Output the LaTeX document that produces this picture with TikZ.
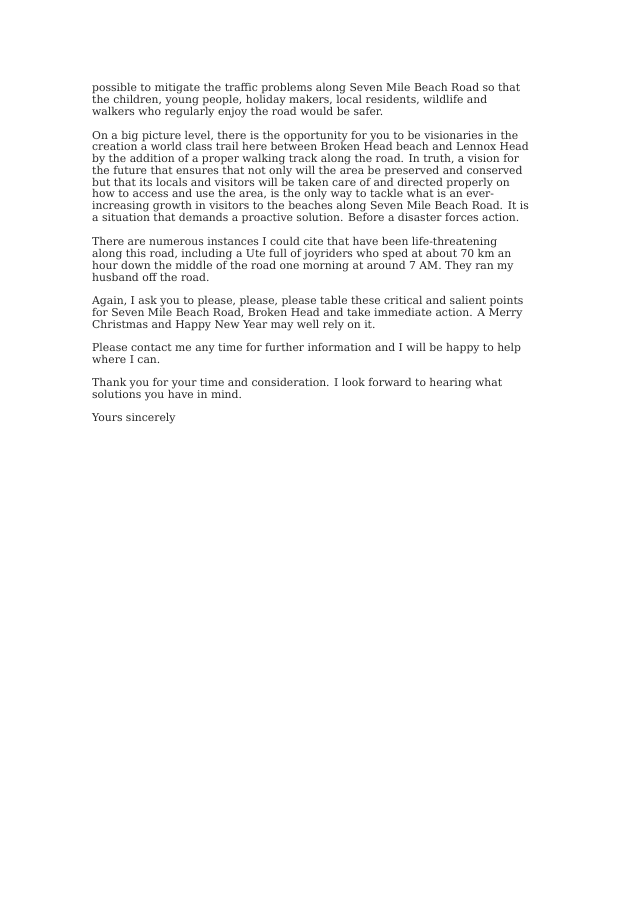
\documentclass[tikz,border=0pt]{standalone}
\usepackage{fontspec}
\setmainfont{DejaVu Serif}
\begin{document}
\begin{tikzpicture}[x=1pt,y=1pt,
  ln/.style={anchor=base west,inner sep=0pt,font=\fontsize{10.8}{12}\selectfont,text=black!85}]
\useasboundingbox[fill=white] (0,0) rectangle (637,-901);
\foreach \t [count=\i] / \y in {
possible to mitigate the traffic problems along Seven Mile Beach Road so that/92,
{the children, young people, holiday makers, local residents, wildlife and}/104,
walkers who regularly enjoy the road would be safer./116,
{On a big picture level, there is the opportunity for you to be visionaries in the}/140,
creation a world class trail here between Broken Head beach and Lennox Head/151,
{by the addition of a proper walking track along the road. In truth, a vision for}/163,
the future that ensures that not only will the area be preserved and conserved/175,
but that its locals and visitors will be taken care of and directed properly on/187,
{how to access and use the area, is the only way to tackle what is an ever-}/198,
increasing growth in visitors to the beaches along Seven Mile Beach Road. It is/210,
a situation that demands a proactive solution. Before a disaster forces action./222,
There are numerous instances I could cite that have been life-threatening/245,
{along this road, including a Ute full of joyriders who sped at about 70 km an}/257,
hour down the middle of the road one morning at around 7 AM. They ran my/269,
husband off the road./281,
{Again, I ask you to please, please, please table these critical and salient points}/304,
{for Seven Mile Beach Road, Broken Head and take immediate action. A Merry}/316,
Christmas and Happy New Year may well rely on it./328,
Please contact me any time for further information and I will be happy to help/351,
where I can./363,
Thank you for your time and consideration. I look forward to hearing what/386,
solutions you have in mind./398,
Yours sincerely/421}
  \node[ln] (l\i) at (92,-\y) {\t};
\end{tikzpicture}
\end{document}
